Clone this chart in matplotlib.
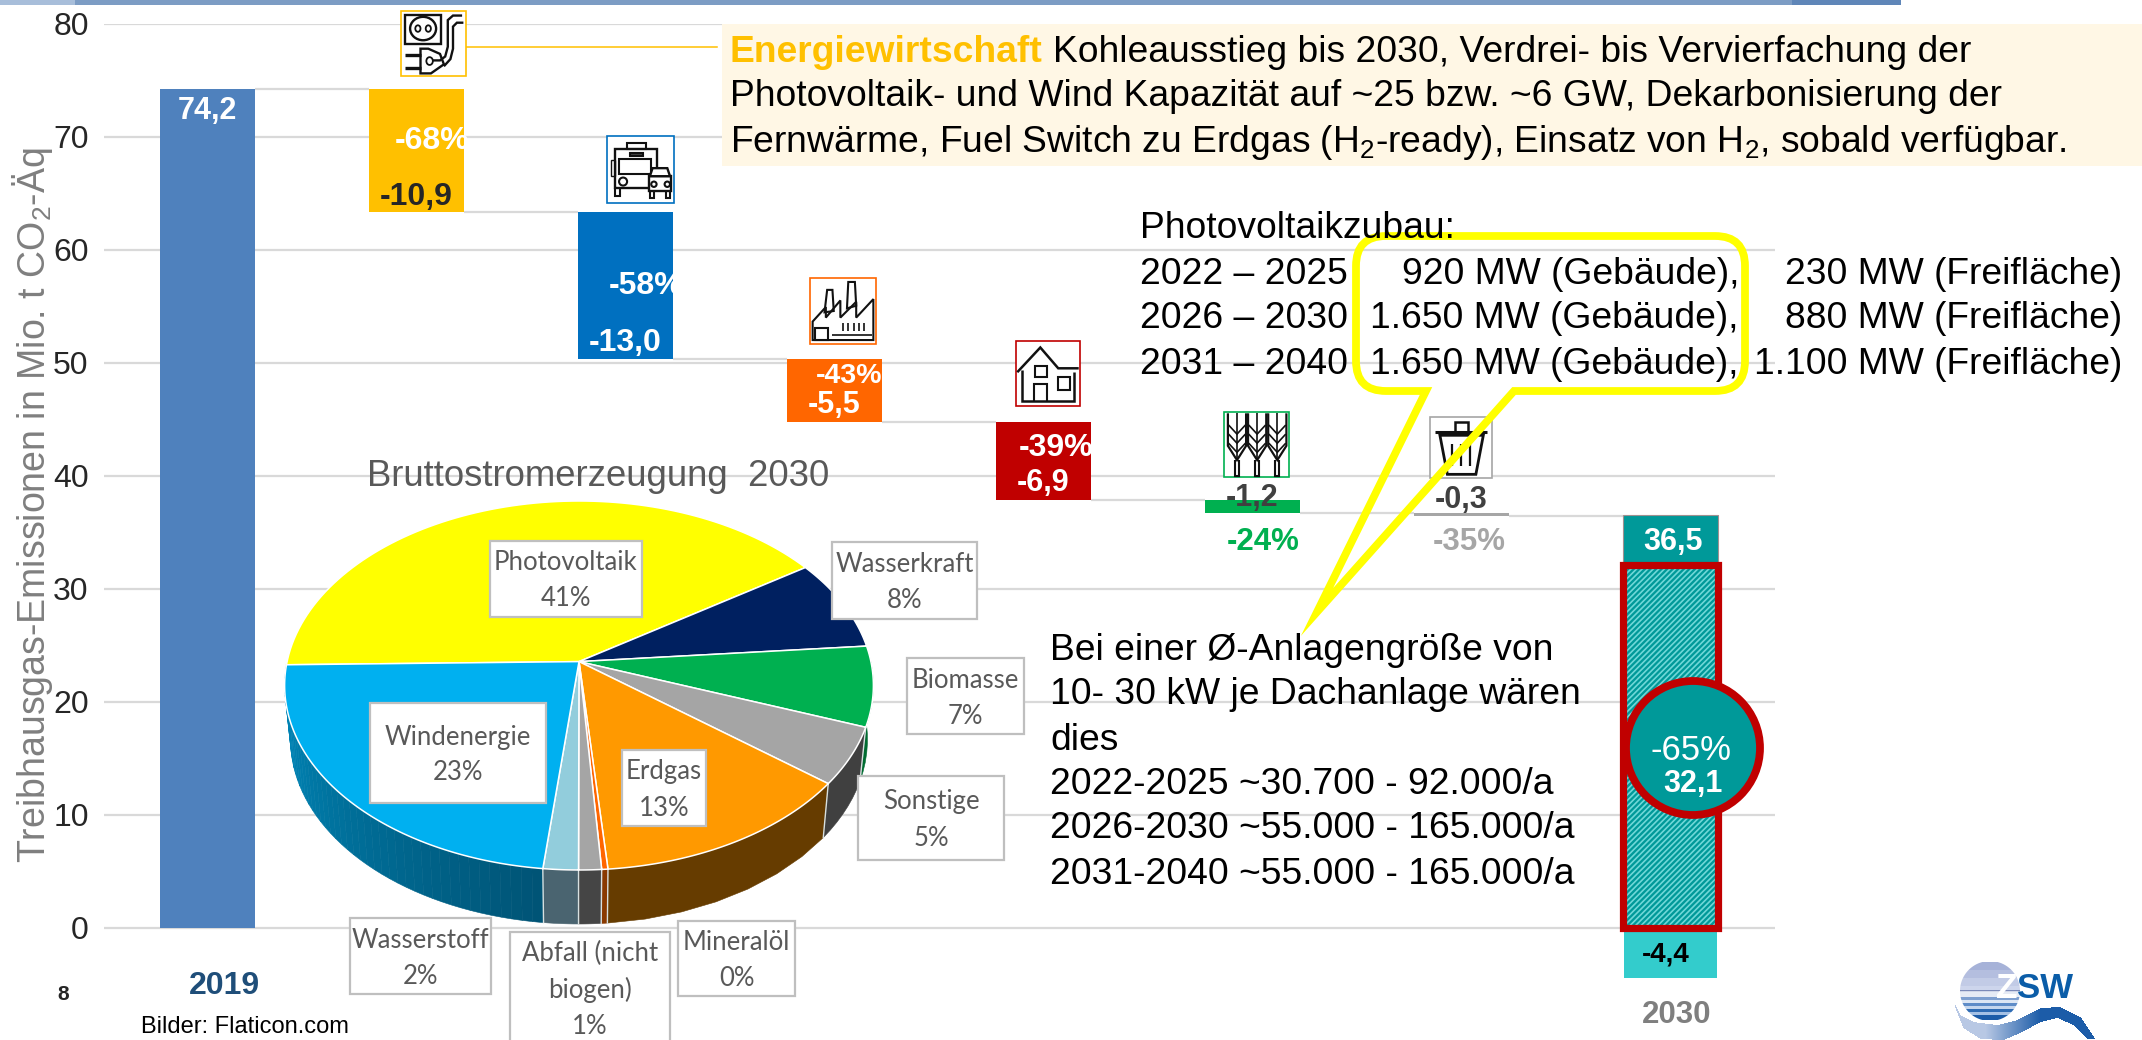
#!/usr/bin/env python
"""Emissions waterfall 2019 -> 2030 with an inset 3D pie of the 2030 power mix."""
import matplotlib

matplotlib.use("Agg")
import matplotlib.pyplot as plt
import numpy as np
from matplotlib.patches import Circle, Ellipse, PathPatch, Polygon, Rectangle
from matplotlib.path import Path

plt.rcParams["font.family"] = ["Liberation Sans", "DejaVu Sans"]
plt.rcParams["mathtext.default"] = "regular"
plt.rcParams["hatch.linewidth"] = 1.2

W, H = 2142, 1040

# waterfall
start_2019 = 74.2
sector_deltas = [10.9, 13.0, 5.5, 6.9, 1.2, 0.3]
sector_colors = ["#FFC000", "#0070C0", "#FF6600", "#C00000", "#00B050", "#A6A6A6"]
value_2030 = 36.5
target_2030 = 32.1
below_2030 = -4.4
yticks = [0, 10, 20, 30, 40, 50, 60, 70, 80]

# pie: estimated shares, clockwise from the left edge
pie_names = ["Photovoltaik", "Wasserkraft", "Biomasse", "Sonstige", "Erdgas",
             "Mineralöl", "Abfall", "Wasserstoff", "Windenergie"]
pie_shares = [40.9, 8.0, 7.0, 5.0, 13.0, 0.3, 1.1, 1.7, 23.0]
pie_top = ["#FFFF00", "#002060", "#00B050", "#A5A5A5", "#FF9900",
           "#FF6600", "#A5A5A5", "#92CDDC", "#00B0F0"]
pie_side = ["#999900", "#001038", "#006B30", "#404040", "#663C00",
            "#8A3A00", "#454545", "#4A6470", "#00709C"]

pv_years = ["2022 – 2025", "2026 – 2030", "2031 – 2040"]
pv_roof = ["920 MW (Gebäude),", "1.650 MW (Gebäude),", "1.650 MW (Gebäude),"]
pv_field = ["230 MW (Freifläche)", "880 MW (Freifläche)", "1.100 MW (Freifläche)"]

roof_lines = ["Bei einer Ø-Anlagengröße von", "10- 30 kW je Dachanlage wären", "dies",
              "2022-2025 ~30.700 - 92.000/a", "2026-2030 ~55.000 - 165.000/a",
              "2031-2040 ~55.000 - 165.000/a"]

fig = plt.figure(figsize=(W / 100, H / 100), dpi=100, facecolor="white")

# main axes: px 104..1775, y=80 at px 23.6 and y=0 at px 928
y_px = lambda v: 928 - v * 11.305
ax = fig.add_axes([104 / W, 1 - y_px(-5) / H, (1775 - 104) / W, (y_px(-5) - y_px(80)) / H])
ax.set_xlim(-0.495, 7.5)
ax.set_ylim(-5, 80)
ax.set_facecolor("none")
for s in ax.spines.values():
    s.set_visible(False)
ax.set_xticks([])
ax.set_yticks(yticks)
ax.tick_params(axis="y", length=0, pad=11, labelsize=23, labelcolor="#262626")
ax.yaxis.grid(True, color="#D9D9D9", lw=1.6)
ax.set_axisbelow(True)

bw = 0.455
ax.bar(0, start_2019, width=bw, color="#4F81BD", zorder=2)
level = start_2019
for i, (d, c) in enumerate(zip(sector_deltas, sector_colors)):
    ax.hlines(level, i + bw / 2, i + 1 - bw / 2, color="#D9D9D9", lw=1.6, zorder=1)
    ax.bar(i + 1, d, bottom=level - d, width=bw, color=c, zorder=2)
    level -= d
ax.hlines(level, 6 + bw / 2, 7 - bw / 2, color="#D9D9D9", lw=1.6, zorder=1)
ax.bar(7, value_2030 - target_2030, bottom=target_2030, width=bw, color="#009999",
       edgecolor="#A09090", lw=0.8, zorder=2)
ax.bar(7, target_2030, width=bw, color="#009999", edgecolor="#70D8D8", hatch="//////", lw=0, zorder=2)
ax.bar(7, target_2030, width=bw, fill=False, edgecolor="#C00000", lw=5.2, zorder=3)
ax.bar(7, below_2030, width=bw * 0.97, color="#33CCCC", zorder=2)

# overlay axes in picture pixels for the slide furniture
ov = fig.add_axes([0, 0, 1, 1])
ov.set_xlim(0, W)
ov.set_ylim(H, 0)
ov.axis("off")
ov.patch.set_alpha(0)


def T(x, y, s, size=26.8, color="black", bold=False, ha="left", va="center", z=20, **kw):
    return ov.text(x, y, s, fontsize=size, color=color, ha=ha, va=va, zorder=z,
                   fontweight="bold" if bold else "normal", **kw)


# top strip
ov.add_patch(Rectangle((0, 0), 1901, 4.5, color="#7C9CC4", lw=0, zorder=1))
ov.add_patch(Rectangle((1792, 0), 109, 5, color="#5F86B8", lw=0, zorder=1))
ov.add_patch(Rectangle((0, 0), 75, 5, color="#A8BEDA", lw=0, zorder=1))

# inset pie, a tilted disc seen in perspective
PCX, PCY, PA, PB, PK, DEPTH = 579, 661.6, 291.9, 181.4, 0.1295, 54


def rim(t, xs=1.0, dy=0.0):
    t = np.radians(t)
    d = 1 + PK * np.sin(t)
    return PCX + xs * PA * np.cos(t) / d, PCY - PB * np.sin(t) / d + dy


edges = 181 - 360 * np.cumsum([0] + pie_shares) / sum(pie_shares)


def side_quad(t0, t1, color, z=3):
    ts = np.linspace(t0, t1, 8)
    xa, ya = rim(ts)
    xb, yb = rim(ts, 0.98, DEPTH)
    pts = np.r_[np.c_[xa, ya], np.c_[xb, yb][::-1]]
    ov.add_patch(Polygon(pts, closed=True, fc=color, ec=color, lw=0.4, zorder=z))


for i in range(len(pie_shares)):
    t0, t1 = edges[i], edges[i + 1]
    lo, hi = min(t0, t1), max(t0, t1)
    lo = max(lo, -180)
    hi = min(hi, 0)
    if lo >= hi:
        continue
    if pie_names[i] == "Windenergie":
        steps = np.linspace(lo, hi, 45)
        c0, c1 = np.array([0, 0x8C, 0xC0]) / 255, np.array([0, 0x54, 0x76]) / 255
        for j in range(len(steps) - 1):
            f = j / (len(steps) - 2)
            side_quad(steps[j], steps[j + 1], tuple(c0 + (c1 - c0) * f))
    else:
        side_quad(lo, hi, pie_side[i])
for t in edges:
    if -180 < t < 0:
        x0, y0 = rim(t)
        x1, y1 = rim(t, 0.98, DEPTH)
        ov.plot([x0, x1], [y0, y1], color="#D8E0E0", lw=1.0, zorder=4)
for i in range(len(pie_shares)):
    ts = np.linspace(edges[i], edges[i + 1], 90)
    xs, ys = rim(ts)
    pts = np.r_[[[PCX, PCY]], np.c_[xs, ys]]
    ov.add_patch(Polygon(pts, closed=True, fc=pie_top[i], ec="white", lw=1.1, zorder=5))

T(367, 476, "Bruttostromerzeugung  2030", size=26.3, color="#595959", z=6)

pie_boxes = [
    ((490, 541, 642, 617), "Photovoltaik\n41%"), ((832, 542, 977, 619), "Wasserkraft\n8%"),
    ((907, 658, 1024, 734), "Biomasse\n7%"), ((858, 776, 1004, 860), "Sonstige\n5%"),
    ((622, 750, 706, 826), "Erdgas\n13%"), ((678, 921, 795, 996), "Mineralöl\n0%"),
    ((510, 932, 670, 1050), "Abfall (nicht\nbiogen)\n1%"), ((350, 918, 491, 994), "Wasserstoff\n2%"),
    ((370, 703, 546, 803), "Windenergie\n23%"),
]
for (x0, y0, x1, y1), label in pie_boxes:
    ov.add_patch(Rectangle((x0, y0), x1 - x0, y1 - y0, fc="white", ec="#BFBFBF", lw=1.6, zorder=7))
    cy = min((y0 + y1) / 2, 988) + 2
    T((x0 + x1) / 2, cy, label, size=18.5, color="#595959", ha="center", z=8,
      family=["Lato", "DejaVu Sans"], linespacing=1.55)

# cream text box
ov.add_patch(Rectangle((722, 24), W - 722, 142, fc="#FFF7E5", lw=0, zorder=9))
ov.plot([459, 717], [47, 47], color="#FFC000", lw=1.1, zorder=10)
T(730, 52, "Energiewirtschaft", bold=True, color="#FFC000")
T(1053, 52, "Kohleausstieg bis 2030, Verdrei- bis Vervierfachung der")
T(730, 97, "Photovoltaik- und Wind Kapazität auf ~25 bzw. ~6 GW, Dekarbonisierung der")
T(730, 142, "Fernwärme, Fuel Switch zu Erdgas (H$_2$-ready), Einsatz von H$_2$, sobald verfügbar.")

# PV additions
T(1140, 229, "Photovoltaikzubau:")
for i, yy in enumerate([274, 319, 364]):
    T(1140, yy, pv_years[i])
    T(1739, yy, pv_roof[i], ha="right")
    T(2122, yy, pv_field[i], ha="right")

for yy, line_text in zip([650, 695, 740, 785, 829, 875], roof_lines):
    T(1050, yy, line_text)

# yellow speech bubble
x0, x1, y0, y1, r = 1356, 1745, 236, 391, 30
verts = [(x0 + r, y0), (x1 - r, y0), (x1, y0), (x1, y0 + r), (x1, y1 - r), (x1, y1), (x1 - r, y1),
         (1514, y1), (1317, 612), (1426, y1), (x0 + r, y1), (x0, y1), (x0, y1 - r), (x0, y0 + r),
         (x0, y0), (x0 + r, y0), (x0 + r, y0)]
codes = [Path.MOVETO, Path.LINETO, Path.CURVE3, Path.CURVE3, Path.LINETO, Path.CURVE3, Path.CURVE3,
         Path.LINETO, Path.LINETO, Path.LINETO, Path.LINETO, Path.CURVE3, Path.CURVE3, Path.LINETO,
         Path.CURVE3, Path.CURVE3, Path.CLOSEPOLY]
ov.add_patch(PathPatch(Path(verts, codes), fc="none", ec="#FFFF00", lw=5.6, joinstyle="miter", zorder=18))

# bar labels
T(207.5, 111, "74,2", 22, "white", True, "center")
T(395, 141, "-68%", 23, "white", True)
T(380, 197, "-10,9", 23, "#262626", True)
T(609, 286, "-58%", 23, "white", True)
T(589, 343, "-13,0", 23, "white", True)
T(816, 376, "-43%", 20.5, "white", True)
T(808, 405, "-5,5", 22, "white", True)
T(1019, 448, "-39%", 23, "white", True)
T(1017, 483, "-6,9", 22, "white", True)
T(1226, 498, "-1,2", 22, "#404040", True)
T(1227, 542, "-24%", 22.5, "#00B050", True)
T(1435, 500, "-0,3", 22, "#404040", True)
T(1433, 542, "-35%", 22.5, "#A6A6A6", True)
T(1643, 542, "36,5", 22, "white", True)
T(1642, 954, "-4,4", 20, "black", True)

ov.add_patch(Circle((1693, 748), 67, fc="#009999", ec="#C00000", lw=5.6, zorder=12))
T(1691, 750, "-65%", 25, "white", ha="center")
T(1693, 784, "32,1", 22, "white", True, "center")

# axis labels and footers
T(33, 505, "Treibhausgas-Emissionen in Mio. t CO$_2$-Äq", 27, "#7F7F7F", ha="center", rotation=90)
T(224, 986, "2019", 23, "#1F4E79", True, "center")
T(1677, 1015, "2030", 22.5, "#7F7F7F", True, "center")
T(63, 995, "8", 15, "#262626", True, "center")
T(141, 1027, "Bilder: Flaticon.com", 17, "black")


# small pictograms inside their framed boxes, local coordinates 0..100
def frame(box, color, z=13):
    x0, y0, x1, y1 = box
    ov.add_patch(Rectangle((x0, y0), x1 - x0, y1 - y0, fc="white", ec=color, lw=1.2, zorder=z))


def line(box, xs, ys, lw=1.5, close=False, fc="none"):
    x0, y0, x1, y1 = box
    px = x0 + np.array(xs, float) / 100 * (x1 - x0)
    py = y0 + np.array(ys, float) / 100 * (y1 - y0)
    ov.add_patch(Polygon(np.c_[px, py], closed=close, fc=fc, ec="#111111", lw=lw, zorder=14))


def oval(box, cx, cy, rx, ry, lw=1.5):
    x0, y0, x1, y1 = box
    w, h = x1 - x0, y1 - y0
    ov.add_patch(Ellipse((x0 + cx / 100 * w, y0 + cy / 100 * h), 2 * rx / 100 * w, 2 * ry / 100 * h,
                         fc="none", ec="#111111", lw=lw, zorder=14))


plug = (401, 11, 466, 76)
frame(plug, "#FFC000")
line(plug, [6, 62, 62, 6], [6, 6, 50, 50], close=True, lw=1.7)
oval(plug, 34, 27, 20, 18, 1.7)
oval(plug, 26, 27, 4, 5, 1.3)
oval(plug, 42, 27, 4, 5, 1.3)
line(plug, [94, 80, 72, 72, 68, 60, 48], [7, 7, 14, 55, 70, 76, 76], 1.7)
line(plug, [96, 86, 80, 80, 76, 66], [18, 18, 24, 58, 74, 85], 1.7)
line(plug, [30, 30, 46, 66, 60, 42], [58, 96, 96, 82, 66, 58], close=True, lw=1.7)
line(plug, [6, 30], [67, 67], 2.4)
line(plug, [6, 30], [87, 87], 2.4)
oval(plug, 44, 77, 5, 6, 1.3)

car = (607, 136, 674, 203)
frame(car, "#0070C0")
line(car, [12, 74, 74, 12], [20, 20, 78, 78], close=True, lw=1.7)
line(car, [18, 66, 66, 18], [34, 34, 56, 56], close=True, lw=1.5)
line(car, [30, 58, 58, 30], [11, 11, 20, 20], close=True)
line(car, [34, 54, 54, 34], [26, 26, 30, 30], close=True, lw=1.5, fc="#444444")
line(car, [6, 12, 12, 6], [36, 36, 60, 60], close=True, lw=1.0)
oval(car, 24, 68, 6, 6)
line(car, [12, 12, 20, 20], [78, 90, 90, 78])
line(car, [62, 96, 96, 62], [60, 60, 82, 82], close=True, fc="white", lw=1.7)
line(car, [68, 90, 94, 64], [48, 48, 60, 60], close=True, fc="white", lw=1.7)
oval(car, 70, 72, 4, 4)
oval(car, 90, 72, 4, 4)
line(car, [64, 64, 70, 70], [82, 92, 92, 82])
line(car, [88, 88, 94, 94], [82, 92, 92, 82])

plant = (810, 278, 876, 344)
frame(plant, "#FF6600")
line(plant, [4, 24, 24, 46, 46, 70, 70, 96, 96, 4], [66, 44, 60, 34, 60, 36, 60, 32, 94, 94], close=True)
line(plant, [26, 34, 36, 22], [18, 18, 50, 52], close=True)
line(plant, [58, 68, 70, 56], [6, 6, 42, 46], close=True)
line(plant, [8, 28, 28, 8], [76, 76, 94, 94], close=True)
for xi in [50, 58, 66, 74, 82]:
    line(plant, [xi, xi], [68, 80], 1.2)
line(plant, [34, 94], [86, 86], 1.2)

house = (1016, 341, 1080, 406)
frame(house, "#C00000")
line(house, [2, 38, 66, 98], [48, 10, 42, 42], 1.8)
line(house, [10, 10, 90, 90], [44, 92, 92, 48], 1.8)
line(house, [30, 48, 48, 30], [38, 38, 56, 56], close=True)
line(house, [28, 28, 48, 48], [92, 66, 66, 92])
line(house, [66, 84, 84, 66], [56, 56, 76, 76], close=True)

wheat = (1224, 412, 1289, 477)
frame(wheat, "#00B050")
for cx in [20, 51, 82]:
    line(wheat, [cx - 14, cx - 14, cx, cx + 14, cx + 14], [2, 52, 74, 52, 2], 1.6)
    line(wheat, [cx - 3, cx - 3, cx + 3, cx + 3], [74, 98, 98, 74])
    line(wheat, [cx, cx], [2, 72], 1.2)
    for yi in [20, 34, 48]:
        line(wheat, [cx - 13, cx, cx + 13], [yi, yi + 14, yi], 1.2)

trash = (1430, 417, 1492, 478)
frame(trash, "#A6A6A6")
line(trash, [8, 92], [24, 24], 2.2)
line(trash, [40, 40, 62, 62], [24, 8, 8, 24], 1.8)
line(trash, [16, 28, 74, 86], [30, 94, 94, 30], close=True, lw=2.0)
for xi in [35, 50, 65]:
    line(trash, [xi, xi], [44, 80], 1.6)

# logo: striped sphere, wave and lettering
band_y = [962, 970, 978, 986, 990, 991.5, 997, 1000, 1003, 1006, 1009, 1012, 1015, 1020]
band_c = ["#A6B2D8", "#B4BEDF", "#C2CBE6", "#CDD5EC", "#7C8AB8", "#E6EBF5", "#7FA0D0", "#DCE6F4",
          "#5E8CC8", "#C4D6EE", "#2F6CB4", "#A4C0E4", "#1C5CA8"]
for ya, yb, cc in zip(band_y[:-1], band_y[1:], band_c):
    yy = np.linspace(ya, yb, 8)
    half = np.sqrt(np.clip(30 ** 2 - (yy - 991) ** 2, 0, None))
    ov.add_patch(Polygon(np.r_[np.c_[1990 - half, yy], np.c_[1990 + half, yy][::-1]],
                         closed=True, fc=cc, lw=0, zorder=2))
wave_x = [1955, 1960, 1973, 1997, 2017, 2040, 2060, 2080, 2095]
wave_hi = [1005, 1015, 1022, 1025, 1020, 1008, 1007, 1017, 1039]
wave_lo_x = [1955, 1963, 1980, 2003, 2020, 2040, 2057, 2073, 2087, 2095]
wave_lo = [1008, 1028, 1039, 1040, 1033, 1022, 1018, 1025, 1039, 1039]
col_l, col_r = np.array([0xB8, 0xC8, 0xE4]) / 255, np.array([0x1C, 0x5C, 0xA8]) / 255
for xx in np.arange(1955, 2095, 1.0):
    f = np.clip((xx - 1985) / 55, 0, 1)
    top = np.interp(xx, wave_x, wave_hi)
    ov.add_patch(Rectangle((xx, top), 1.2, np.interp(xx, wave_lo_x, wave_lo) - top,
                           fc=tuple(col_l + (col_r - col_l) * f), lw=0, zorder=3))
T(1996, 998, "Z", 25.5, "white", True, va="baseline", z=5)
T(2017, 998, "SW", 25, "#0B5DA8", True, va="baseline", z=5)

fig.savefig("out.png", dpi=100)
plt.close(fig)
